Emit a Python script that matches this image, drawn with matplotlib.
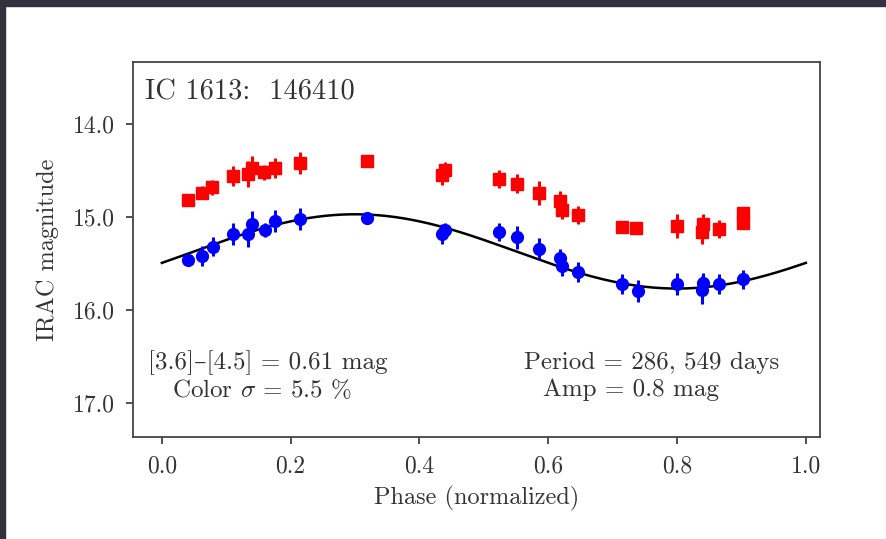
import numpy as np
import matplotlib
matplotlib.use("Agg")
import matplotlib.pyplot as plt
from matplotlib.patches import Rectangle

# 字体：Computer Modern 风格
plt.rcParams["font.family"] = ["cmr10", "DejaVu Serif"]
plt.rcParams["mathtext.fontset"] = "cm"
plt.rcParams["axes.formatter.use_mathtext"] = True

# IRAC [3.6] (blue) and [4.5] (red) light curve points
phase_red = [0.040, 0.062, 0.078, 0.110, 0.134, 0.140, 0.158, 0.175, 0.214, 0.318,
             0.435, 0.440, 0.523, 0.551, 0.585, 0.618, 0.622, 0.646, 0.714, 0.737,
             0.800, 0.838, 0.841, 0.865, 0.903, 0.903]
mag_red = [14.82, 14.74, 14.68, 14.56, 14.54, 14.47, 14.52, 14.47, 14.42, 14.40,
           14.55, 14.49, 14.59, 14.64, 14.74, 14.83, 14.92, 14.98, 15.11, 15.12,
           15.10, 15.16, 15.08, 15.13, 14.96, 15.06]
err_red = [0.03, 0.07, 0.08, 0.11, 0.14, 0.13, 0.08, 0.11, 0.12, 0.03,
           0.11, 0.08, 0.10, 0.10, 0.13, 0.11, 0.10, 0.10, 0.06, 0.06,
           0.13, 0.13, 0.11, 0.10, 0.05, 0.05]

phase_blue = [0.040, 0.062, 0.079, 0.110, 0.134, 0.140, 0.160, 0.175, 0.214, 0.318,
              0.435, 0.440, 0.523, 0.551, 0.585, 0.618, 0.622, 0.646, 0.714, 0.739,
              0.800, 0.838, 0.841, 0.865, 0.903]
mag_blue = [15.46, 15.42, 15.32, 15.18, 15.18, 15.07, 15.14, 15.04, 15.02, 15.01,
            15.18, 15.14, 15.16, 15.22, 15.34, 15.44, 15.53, 15.59, 15.72, 15.80,
            15.72, 15.79, 15.71, 15.72, 15.67]
err_blue = [0.05, 0.11, 0.10, 0.12, 0.14, 0.13, 0.08, 0.12, 0.12, 0.05,
            0.11, 0.08, 0.10, 0.12, 0.11, 0.10, 0.11, 0.11, 0.11, 0.12,
            0.12, 0.15, 0.11, 0.11, 0.10]

# sine fit to the [3.6] curve
fit_mean = 15.37
fit_amp = 0.4
fit_shift = 0.05

fig = plt.figure(figsize=(8.86, 5.39), dpi=100)
fig.patch.set_facecolor("white")
# dark frame at top and left
fig.patches.append(Rectangle((0, 1 - 6 / 539), 1, 6 / 539, transform=fig.transFigure,
                             color="#34313f", zorder=0))
fig.patches.append(Rectangle((0, 0), 5 / 886, 1, transform=fig.transFigure,
                             color="#34313f", zorder=0))

ax = fig.add_axes([0.150, 0.189, 0.7755, 0.696])

ph = np.linspace(0, 1, 300)
ax.plot(ph, fit_mean - fit_amp * np.sin(2 * np.pi * (ph - fit_shift)), color="black", lw=1.8, zorder=3)

ax.errorbar(phase_red, mag_red, yerr=err_red, fmt="s", color="red", ms=8,
            elinewidth=2.2, capsize=0, zorder=2)
ax.errorbar(phase_blue, mag_blue, yerr=err_blue, fmt="o", color="blue", ms=8.5,
            elinewidth=2.2, capsize=0, zorder=4)

ax.set_xlim(-0.045, 1.022)
ax.set_ylim(17.37, 13.33)
ax.set_xticks([0.0, 0.2, 0.4, 0.6, 0.8, 1.0])
ax.set_yticks([14.0, 15.0, 16.0, 17.0])
ax.set_xticklabels(["0.0", "0.2", "0.4", "0.6", "0.8", "1.0"])
ax.set_yticklabels(["14.0", "15.0", "16.0", "17.0"])
ax.tick_params(labelsize=17, length=5, width=1.2, colors="#333333", pad=8)
for s in ax.spines.values():
    s.set_color("#444444")
    s.set_linewidth(1.3)

ax.set_xlabel("Phase (normalized)", fontsize=17.5, color="#333333", labelpad=6)
ax.set_ylabel("IRAC magnitude", fontsize=17.5, color="#333333", labelpad=10)

ax.text(0.018, 0.955, "IC 1613:  146410", transform=ax.transAxes, fontsize=20.5,
        color="#333333", va="top", ha="left")
ax.text(0.196, 0.198, "[3.6]–[4.5] = 0.61 mag", transform=ax.transAxes, fontsize=18,
        color="#333333", ha="center", va="center")
ax.text(0.188, 0.125, r"Color $\sigma$ = 5.5 %", transform=ax.transAxes, fontsize=18,
        color="#333333", ha="center", va="center")
ax.text(0.755, 0.198, "Period = 286, 549 days", transform=ax.transAxes, fontsize=18,
        color="#333333", ha="center", va="center")
ax.text(0.725, 0.125, "Amp = 0.8 mag", transform=ax.transAxes, fontsize=18,
        color="#333333", ha="center", va="center")

fig.savefig("out.png", dpi=100)
